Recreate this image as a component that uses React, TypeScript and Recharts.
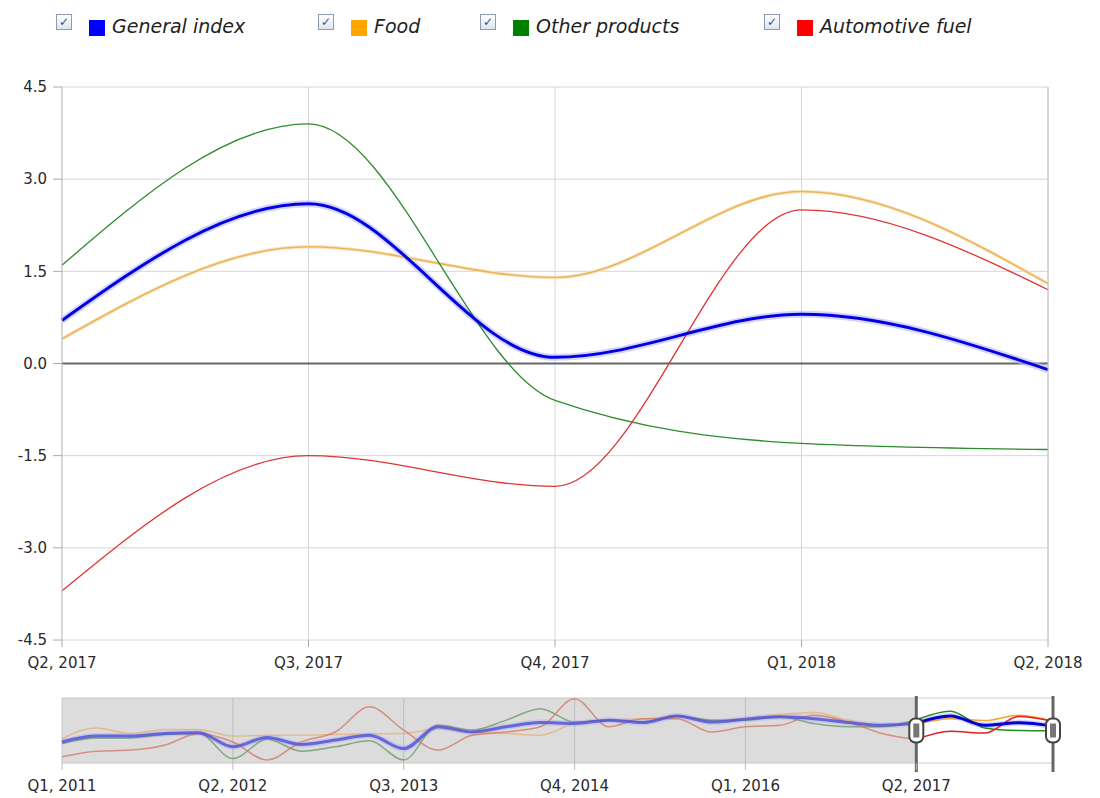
import React from 'react';
import { LineChart, Line, XAxis, YAxis, CartesianGrid, ReferenceLine, ReferenceArea } from 'recharts';

const quarters = [
  'Q1, 2011', 'Q2, 2011', 'Q3, 2011', 'Q4, 2011',
  'Q1, 2012', 'Q2, 2012', 'Q3, 2012', 'Q4, 2012',
  'Q1, 2013', 'Q2, 2013', 'Q3, 2013', 'Q4, 2013',
  'Q1, 2014', 'Q2, 2014', 'Q3, 2014', 'Q4, 2014',
  'Q1, 2015', 'Q2, 2015', 'Q3, 2015', 'Q4, 2015',
  'Q1, 2016', 'Q2, 2016', 'Q3, 2016', 'Q4, 2016',
  'Q1, 2017', 'Q2, 2017', 'Q3, 2017', 'Q4, 2017',
  'Q1, 2018', 'Q2, 2018',
];

const generalIndex = [-4.4, -2.8, -2.8, -2.1, -1.9, -5.7, -3.2, -5.1, -3.9, -2.6, -6.2, -0.3, -1.7, -0.3, 0.85, 0.6, 1.5, 0.85, 2.65, 1.0, 1.75, 2.4, 1.9, 0.85, 0.1, 0.7, 2.6, 0.1, 0.8, -0.1];
const food = [-3.5, -0.6, -2.1, -1.0, -1.0, -2.8, -2.6, -2.6, -2.4, -2.2, -2.1, -0.8, -1.7, -2.1, -2.6, 0.6, 1.5, 1.9, 2.4, 1.5, 1.9, 3.0, 3.6, 1.5, 0.1, 0.4, 1.9, 1.4, 2.8, 1.3];
const otherProducts = [-4.8, -3.3, -3.3, -2.4, -2.1, -8.9, -3.7, -6.9, -5.7, -4.1, -9.3, 0.1, -1.2, 1.5, 4.6, 1.0, 1.5, 1.0, 2.65, 1.5, 1.5, 2.4, 0.6, -0.3, -0.3, 1.6, 3.9, -0.6, -1.3, -1.4];
const automotiveFuel = [-8.4, -6.9, -6.6, -5.3, -2.1, -4.4, -9.3, -4.4, -1.7, 5.1, -1.2, -6.6, -2.6, -1.7, -0.3, 7.3, -0.3, 1.9, 1.9, -1.7, -0.3, 0.1, 2.8, 1.0, -2.1, -3.7, -1.5, -2.0, 2.5, 1.2];

const yTicks = [-4.5, -3.0, -1.5, 0, 1.5, 3.0, 4.5];
const navDomain = [-10.1, 7.5];
const selStart = 25;
const selEnd = 29;
const navTickStep = 5;

const series = [
  { key: 'gen', name: 'General index', values: generalIndex, color: '#0000e0', legend: '#0000ff' },
  { key: 'food', name: 'Food', values: food, color: '#edb45e', legend: '#ffa500' },
  { key: 'other', name: 'Other products', values: otherProducts, color: '#2f8a2f', legend: '#008000' },
  { key: 'fuel', name: 'Automotive fuel', values: automotiveFuel, color: '#e23333', legend: '#ff0000' },
];

const mainData = quarters.slice(selStart, selEnd + 1).map((q, j) => {
  const row: any = { q };
  series.forEach((s) => { row[s.key] = s.values[selStart + j]; });
  return row;
});

const navData = quarters.map((q, i) => {
  const row: any = { q };
  series.forEach((s) => {
    row[s.key + '_a'] = i <= selStart ? s.values[i] : null;
    row[s.key + '_b'] = i >= selStart ? s.values[i] : null;
  });
  return row;
});

const navGridTicks = quarters.filter((_, i) => i > 0 && i < selStart && i % navTickStep === 0);

const FONT = '"DejaVu Sans", Verdana, sans-serif';
const legendPos = [56, 318, 480, 764];

const Handle = (p: any) => {
  const x = p.x1;
  const top = Math.min(p.y1, p.y2);
  const bot = Math.max(p.y1, p.y2);
  const mid = (top + bot) / 2;
  return (
    <g>
      <line x1={x} x2={x} y1={top - 2} y2={bot + 9} stroke="#666" strokeWidth={3} />
      <rect x={x - 7} y={mid - 12} width={14} height={24} rx={6} ry={6} fill="#fff" stroke="#444" strokeWidth={2} />
      <rect x={x - 3} y={mid - 7} width={6} height={14} fill="#777" />
    </g>
  );
};

const tickStyle = { fill: '#2a2a2a', fontSize: 15, fontFamily: FONT };

export default function App() {
  return (
    <div style={{ position: 'absolute', left: 0, top: 0, width: 1100, height: 798, background: '#fff', fontFamily: FONT, overflow: 'hidden' }}>
      {series.map((s, i) => (
        <div key={s.key} style={{ position: 'absolute', left: legendPos[i], top: 12, height: 30, whiteSpace: 'nowrap' }}>
          <span style={{ position: 'absolute', left: 0, top: 2, width: 16, height: 16, border: '1px solid #8f9bb3', background: 'linear-gradient(#ffffff, #dfe5ee)', boxSizing: 'border-box', fontSize: 12, lineHeight: '14px', textAlign: 'center', color: '#2a4a9a', fontWeight: 'bold' }}>✓</span>
          <span style={{ position: 'absolute', left: 33, top: 8, width: 16, height: 16, background: s.legend }} />
          <span style={{ position: 'absolute', left: 56, top: 2, fontSize: 19, fontStyle: 'italic', color: '#222', lineHeight: '24px' }}>{s.name}</span>
        </div>
      ))}

      <div style={{ position: 'absolute', left: 0, top: 0 }}>
        <LineChart width={1100} height={680} data={mainData} margin={{ top: 87, right: 0, left: 0, bottom: 0 }}>
          <CartesianGrid yAxisId="l" stroke="#d6d6d6" />
          <XAxis dataKey="q" interval={0} height={40} tickSize={7} tickMargin={10} axisLine={false} tickLine={{ stroke: '#aaa' }} tick={tickStyle} />
          <YAxis yAxisId="l" domain={[-4.5, 4.5]} ticks={yTicks} width={62} tickSize={9} tickMargin={6} axisLine={{ stroke: '#c4c4c4' }} tickLine={{ stroke: '#aaa' }} tick={tickStyle} tickFormatter={(v: number) => v.toFixed(1)} />
          <YAxis yAxisId="r" orientation="right" domain={[-4.5, 4.5]} ticks={yTicks} width={52} tickSize={9} tickMargin={6} axisLine={{ stroke: '#c4c4c4' }} tickLine={{ stroke: '#aaa' }} tick={tickStyle} tickFormatter={(v: number) => v.toFixed(1)} />
          <ReferenceLine yAxisId="l" y={0} stroke="#666" strokeWidth={2} />
          <Line yAxisId="l" type="monotone" dataKey="gen" stroke="#b8b8ff" strokeWidth={7} strokeOpacity={0.6} dot={false} activeDot={false} isAnimationActive={false} legendType="none" />
          <Line yAxisId="l" type="monotone" dataKey="food" stroke="#f8e6c0" strokeWidth={3.5} dot={false} activeDot={false} isAnimationActive={false} legendType="none" />
          <Line yAxisId="l" type="monotone" dataKey="food" stroke={series[1].color} strokeWidth={1.6} dot={false} activeDot={false} isAnimationActive={false} />
          <Line yAxisId="l" type="monotone" dataKey="other" stroke={series[2].color} strokeWidth={1.3} dot={false} activeDot={false} isAnimationActive={false} />
          <Line yAxisId="l" type="monotone" dataKey="fuel" stroke={series[3].color} strokeWidth={1.3} dot={false} activeDot={false} isAnimationActive={false} />
          <Line yAxisId="l" type="monotone" dataKey="gen" stroke={series[0].color} strokeWidth={3} dot={false} activeDot={false} isAnimationActive={false} />
        </LineChart>
      </div>

      <div style={{ position: 'absolute', left: 0, top: 680 }}>
        <LineChart width={1100} height={118} data={navData} margin={{ top: 18, right: 47, left: 62, bottom: 0 }}>
          <YAxis hide domain={navDomain} />
          <XAxis dataKey="q" interval={navTickStep - 1} height={35} tickSize={7} tickMargin={10} axisLine={false} tickLine={{ stroke: '#bbb' }} tick={tickStyle} />
          <ReferenceArea x1={quarters[0]} x2={quarters[selStart]} fill="#dcdcdc" fillOpacity={1} stroke="#c8c8c8" />
          <ReferenceArea x1={quarters[selStart]} x2={quarters[selEnd]} fill="#ffffff" fillOpacity={1} stroke="#cfcfcf" />
          {navGridTicks.map((t) => (
            <ReferenceLine key={t} x={t} stroke="#bdbdbd" />
          ))}
          <Line type="monotone" dataKey="gen_a" stroke="#b0b0f0" strokeWidth={6} strokeOpacity={0.5} dot={false} activeDot={false} isAnimationActive={false} legendType="none" />
          <Line type="monotone" dataKey="food_a" stroke="#e6b27a" strokeWidth={1.5} strokeOpacity={0.8} dot={false} activeDot={false} isAnimationActive={false} />
          <Line type="monotone" dataKey="other_a" stroke="#6a9e6a" strokeWidth={1.5} strokeOpacity={0.8} dot={false} activeDot={false} isAnimationActive={false} />
          <Line type="monotone" dataKey="fuel_a" stroke="#d47a66" strokeWidth={1.5} strokeOpacity={0.8} dot={false} activeDot={false} isAnimationActive={false} />
          <Line type="monotone" dataKey="gen_a" stroke="#5555d8" strokeWidth={3} strokeOpacity={0.85} dot={false} activeDot={false} isAnimationActive={false} />
          <Line type="monotone" dataKey="gen_b" stroke="#b8b8ff" strokeWidth={6} strokeOpacity={0.6} dot={false} activeDot={false} isAnimationActive={false} legendType="none" />
          <Line type="monotone" dataKey="food_b" stroke="#f0a830" strokeWidth={1.5} dot={false} activeDot={false} isAnimationActive={false} />
          <Line type="monotone" dataKey="other_b" stroke="#228b22" strokeWidth={1.5} dot={false} activeDot={false} isAnimationActive={false} />
          <Line type="monotone" dataKey="fuel_b" stroke="#e02020" strokeWidth={1.5} dot={false} activeDot={false} isAnimationActive={false} />
          <Line type="monotone" dataKey="gen_b" stroke="#0000d0" strokeWidth={3} dot={false} activeDot={false} isAnimationActive={false} />
          <ReferenceLine x={quarters[selStart]} shape={Handle} />
          <ReferenceLine x={quarters[selEnd]} shape={Handle} />
        </LineChart>
      </div>
    </div>
  );
}
